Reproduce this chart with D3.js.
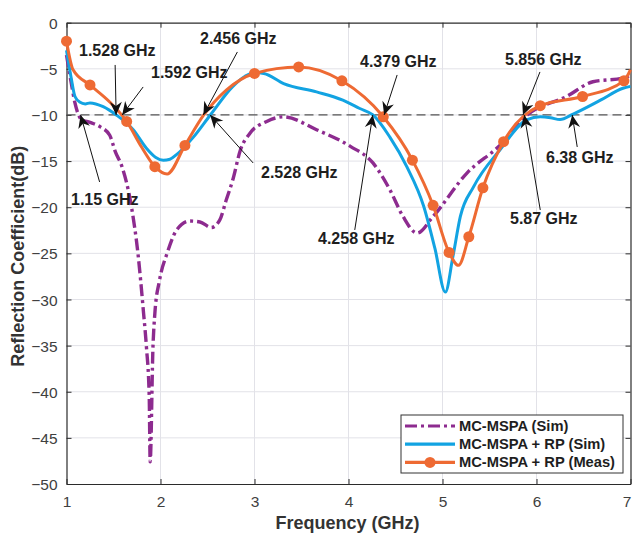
<!DOCTYPE html>
<html>
<head>
<meta charset="utf-8">
<script src="https://cdn.jsdelivr.net/npm/d3@7"></script>
<style>
  body { margin: 0; background: #fff; }
  text { font-family: "Liberation Sans", Helvetica, Arial, sans-serif; }
</style>
</head>
<body>
<div id="chart"></div>
<script>
// ---- data ----
const xTicks = [1, 2, 3, 4, 5, 6, 7];
const yTicks = [0, -5, -10, -15, -20, -25, -30, -35, -40, -45, -50];

// MC-MSPA (Sim)
const simBare = [
  [1.0, -3.5], [1.05, -6.5], [1.09, -8.7], [1.16, -10.5], [1.25, -10.8], [1.36, -11.3],
  [1.46, -12.2], [1.52, -14.0], [1.59, -15.6], [1.69, -19.9], [1.76, -25.0], [1.82, -31.5],
  [1.85, -35.1], [1.88, -40.5], [1.89, -47.6], [1.92, -35.1], [1.94, -31.5], [1.99, -27.9],
  [2.07, -25.0], [2.17, -22.5], [2.31, -21.5], [2.42, -21.6], [2.54, -22.2], [2.63, -21.4],
  [2.70, -19.2], [2.77, -17.0], [2.85, -13.8], [2.95, -12.0], [3.13, -10.7], [3.31, -10.2],
  [3.66, -11.6], [4.02, -13.4], [4.26, -15.2], [4.44, -18.1], [4.58, -21.0], [4.73, -22.8],
  [4.90, -21.0], [5.26, -16.3], [5.61, -13.3], [5.90, -10.0], [6.32, -8.0], [6.60, -6.4],
  [6.92, -6.0], [7.0, -5.7]
];

// MC-MSPA + RP (Sim)
const simRP = [
  [1.0, -3.0], [1.05, -6.0], [1.09, -8.0], [1.14, -8.6], [1.2, -8.8], [1.25, -8.7],
  [1.39, -9.1], [1.53, -10.0], [1.71, -11.6], [1.85, -13.6], [1.95, -14.6], [2.03, -14.9],
  [2.10, -14.8], [2.17, -14.3], [2.35, -12.4], [2.53, -10.0], [2.77, -6.9], [2.90, -5.8],
  [3.0, -5.4], [3.1, -5.5], [3.31, -6.6], [3.66, -7.5], [3.94, -8.4], [4.12, -9.3],
  [4.26, -10.0], [4.44, -12.4], [4.62, -15.6], [4.80, -19.9], [4.92, -24.5], [5.03, -29.2],
  [5.11, -25.4], [5.19, -21.0], [5.33, -17.8], [5.61, -13.8], [5.90, -10.5], [6.04, -10.2],
  [6.15, -10.3], [6.25, -10.5], [6.39, -9.9], [6.68, -8.4], [6.92, -7.1], [7.0, -6.9]
];

// MC-MSPA + RP (Meas)
const measRP = [
  [1.0, -2.0], [1.07, -5.1], [1.25, -6.75], [1.46, -8.6], [1.64, -10.7], [1.80, -13.5],
  [1.94, -15.6], [2.07, -16.4], [2.26, -13.3], [2.46, -10.0], [2.70, -7.3], [3.0, -5.5],
  [3.47, -4.8], [3.93, -6.3], [4.37, -10.2], [4.68, -14.9], [4.90, -19.8], [5.07, -24.9],
  [5.17, -26.3], [5.28, -23.2], [5.43, -17.9], [5.65, -12.9], [6.04, -9.0], [6.49, -8.0],
  [6.93, -6.3], [7.0, -5.1]
];
const measMarkerIdx = [0, 2, 4, 6, 8, 11, 12, 13, 14, 15, 16, 17, 19, 20, 21, 22, 23, 24];

const refLevel = -10;
const annFreq  = [1.15, 1.528, 1.592, 2.456, 2.528, 4.258, 4.379, 5.856, 5.87, 6.38];
const annLabel = ["1.15 GHz", "1.528 GHz", "1.592 GHz", "2.456 GHz", "2.528 GHz",
                  "4.258 GHz", "4.379 GHz", "5.856 GHz", "5.87 GHz", "6.38 GHz"];

const legendLabels = ["MC-MSPA (Sim)", "MC-MSPA + RP (Sim)", "MC-MSPA + RP (Meas)"];

// ---- layout ----
const W = 632, H = 536;
const margin = {top: 22.7, right: 1.5, bottom: 52, left: 66.5};
const width = W - margin.left - margin.right;
const height = H - margin.top - margin.bottom;

const purple = "#8d2b8f", blue = "#12a3e2", orange = "#ee6a33";

// arrow tail offsets from tip, and label anchor positions
const annLayout = [
  {tail: [19, 67],  text: [71, 204]},
  {tail: [-1, -50], text: [79, 55]},
  {tail: [21, -28], text: [151, 77]},
  {tail: [34, -63], text: [200, 43]},
  {tail: [43, 48],  text: [261, 177]},
  {tail: [-18, 115], text: [318, 243]},
  {tail: [13, -40], text: [360, 66]},
  {tail: [17, -43], text: [505, 64]},
  {tail: [16, 95],  text: [510, 223]},
  {tail: [5, 32],   text: [546, 162]}
];

const svg = d3.select("#chart").append("svg")
  .attr("width", W).attr("height", H)
  .style("background", "#fff");

const g = svg.append("g")
  .attr("transform", `translate(${margin.left},${margin.top})`);

const x = d3.scaleLinear().domain([1, 7]).range([0, width]);
const y = d3.scaleLinear().domain([-50, 0]).range([height, 0]);

// grid
g.append("g").selectAll("line").data(xTicks.slice(1, -1)).join("line")
  .attr("x1", d => x(d)).attr("x2", d => x(d))
  .attr("y1", 0).attr("y2", height)
  .attr("stroke", "#e2e2e8").attr("stroke-width", 1);
g.append("g").selectAll("line").data(yTicks.slice(1, -1)).join("line")
  .attr("x1", 0).attr("x2", width)
  .attr("y1", d => y(d)).attr("y2", d => y(d))
  .attr("stroke", "#e2e2e8").attr("stroke-width", 1);

// axes (ticks inside, box all round)
const tickCol = "#2b2b2b";
const xAxis = g.append("g").attr("transform", `translate(0,${height})`)
  .call(d3.axisBottom(x).tickValues(xTicks).tickSizeInner(-5).tickSizeOuter(0).tickPadding(12)
    .tickFormat(d3.format("d")));
const yAxis = g.append("g")
  .call(d3.axisLeft(y).tickValues(yTicks).tickSizeInner(-5).tickSizeOuter(0).tickPadding(9)
    .tickFormat(d3.format("d")));
const xTop = g.append("g")
  .call(d3.axisTop(x).tickValues(xTicks).tickSizeInner(-5).tickSizeOuter(0).tickFormat(""));
const yRight = g.append("g").attr("transform", `translate(${width},0)`)
  .call(d3.axisRight(y).tickValues(yTicks).tickSizeInner(-5).tickSizeOuter(0).tickFormat(""));

[xAxis, yAxis, xTop, yRight].forEach(a => {
  a.select(".domain").attr("stroke", tickCol).attr("stroke-width", 1.2);
  a.selectAll(".tick line").attr("stroke", tickCol);
  a.selectAll(".tick text").attr("fill", "#404040").style("font-size", "15.5px");
});
yAxis.selectAll(".tick text").attr("dy", "0.36em");
// last x label sits at the window edge; nudge it in a little
xAxis.selectAll(".tick text").filter(d => d === 7).attr("dx", "-0.25em");

// -10 dB reference line
g.append("line")
  .attr("x1", 0).attr("x2", width)
  .attr("y1", y(refLevel)).attr("y2", y(refLevel))
  .attr("stroke", "#555").attr("stroke-width", 1.2)
  .attr("stroke-dasharray", "9,5");

const line = d3.line()
  .x(d => x(d[0])).y(d => y(d[1]))
  .curve(d3.curveMonotoneX);

g.append("path").datum(simBare)
  .attr("fill", "none").attr("stroke", purple).attr("stroke-width", 3.4)
  .attr("stroke-dasharray", "12,4,3,4")
  .attr("d", line);

g.append("path").datum(simRP)
  .attr("fill", "none").attr("stroke", blue).attr("stroke-width", 3)
  .attr("d", line);

g.append("path").datum(measRP)
  .attr("fill", "none").attr("stroke", orange).attr("stroke-width", 3)
  .attr("d", line);

g.append("g").selectAll("circle")
  .data(measMarkerIdx.map(i => measRP[i])).join("circle")
  .attr("cx", d => x(d[0])).attr("cy", d => y(d[1]))
  .attr("r", 5.5).attr("fill", orange);

// annotations
const headPath = "M0,0 L-13,-6 L-9,0 L-13,6 Z";
const ann = svg.append("g");
annFreq.forEach((f, i) => {
  const tx = margin.left + x(f), ty = margin.top + y(refLevel);
  const lay = annLayout[i];
  const sx = tx + lay.tail[0], sy = ty + lay.tail[1];
  const ang = Math.atan2(ty - sy, tx - sx) * 180 / Math.PI;
  ann.append("line")
    .attr("x1", sx).attr("y1", sy).attr("x2", tx).attr("y2", ty)
    .attr("stroke", "#111").attr("stroke-width", 1);
  ann.append("path")
    .attr("d", headPath)
    .attr("transform", `translate(${tx},${ty}) rotate(${ang})`)
    .attr("fill", "#111");
  ann.append("text")
    .attr("x", lay.text[0]).attr("y", lay.text[1] + 0.5)
    .attr("fill", "#1e1e1e")
    .style("font-size", "16px").style("font-weight", "bold")
    .text(annLabel[i]);
});

// axis labels
svg.append("text")
  .attr("x", margin.left + width / 2 - 1).attr("y", 529)
  .attr("text-anchor", "middle")
  .attr("fill", "#333")
  .style("font-size", "18px").style("font-weight", "bold")
  .text("Frequency (GHz)");

svg.append("text")
  .attr("transform", `translate(24,${margin.top + height / 2 + 3}) rotate(-90)`)
  .attr("text-anchor", "middle")
  .attr("fill", "#333")
  .style("font-size", "18px").style("font-weight", "bold")
  .text("Reflection Coefficient(dB)");

// legend
const leg = svg.append("g").attr("transform", "translate(401,415)");
leg.append("rect")
  .attr("width", 222).attr("height", 58)
  .attr("fill", "#fff").attr("stroke", "#333").attr("stroke-width", 1);
const legStyles = [
  {color: purple, dash: "12,4,3,4", marker: false},
  {color: blue, dash: null, marker: false},
  {color: orange, dash: null, marker: true}
];
legendLabels.forEach((lab, i) => {
  const ly = 11 + i * 18.2;
  const s = legStyles[i];
  leg.append("line")
    .attr("x1", 4).attr("x2", 54).attr("y1", ly).attr("y2", ly)
    .attr("stroke", s.color).attr("stroke-width", 3.2)
    .attr("stroke-dasharray", s.dash);
  if (s.marker) {
    leg.append("circle").attr("cx", 29).attr("cy", ly).attr("r", 5.5).attr("fill", s.color);
  }
  leg.append("text")
    .attr("x", 58).attr("y", ly + 5)
    .attr("fill", "#1e1e1e")
    .style("font-size", "14.7px").style("font-weight", "bold")
    .text(lab);
});
</script>
</body>
</html>
